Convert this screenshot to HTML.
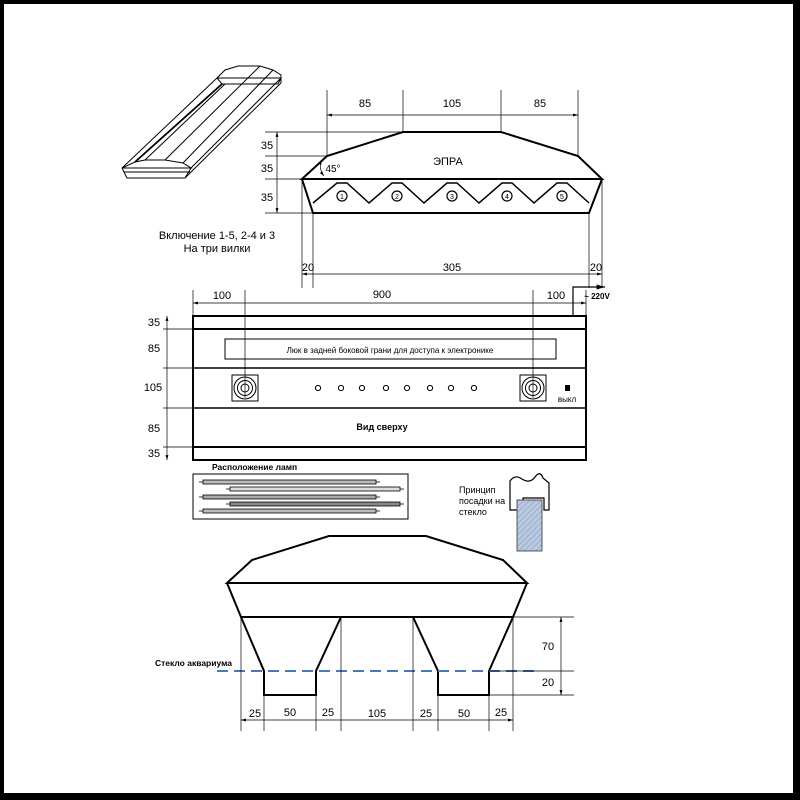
<!DOCTYPE html>
<html><head><meta charset="utf-8"><style>
html,body{margin:0;padding:0;background:#fff}
svg{display:block}
text{font-family:"Liberation Sans",sans-serif;fill:#000}
</style></head><body>
<svg width="800" height="800" viewBox="0 0 800 800" xmlns="http://www.w3.org/2000/svg">
<defs>
<marker id="a" viewBox="0 0 10 10" refX="10" refY="5" markerWidth="7" markerHeight="7" orient="auto-start-reverse"><path d="M0,2 L10,5 L0,8 z" fill="#000"/></marker>
<pattern id="h" width="4" height="4" patternUnits="userSpaceOnUse" patternTransform="rotate(45)"><rect width="4" height="4" fill="#b9c9e2"/><line x1="0" y1="0" x2="0" y2="4" stroke="#6f86ad" stroke-width="0.8"/></pattern>
</defs>
<rect x="0" y="0" width="800" height="800" fill="#000"/>
<rect x="4" y="4" width="789" height="789" fill="#fff"/>

<!-- isometric -->
<g fill="none" stroke="#000" stroke-width="1">
<path d="M217,78 L225,70 L238,66 L260,66 L273,70 L281,75 L281,83"/>
<path d="M217,78 L281,78"/>
<path d="M217,78 L222,84 L278,84 L281,78"/>
<path d="M122,168 L135,162 L145,160 L165,160 L183,163 L191,168 Z"/>
<path d="M122,168 L127,178 L185,178 L191,168"/>
<path d="M124,172 L190,172"/>
<path d="M122,168 L217,78"/>
<path d="M135,162 L222,84" stroke-width="1.8"/>
<path d="M145,160 L225,84"/>
<path d="M165,160 L260,66"/>
<path d="M183,163 L273,70"/>
<path d="M191,168 L281,78"/>
<path d="M185,178 L281,83"/>
</g>

<!-- front EPRA -->
<g fill="none" stroke="#000">
<path d="M302,179 L327,156 L403,132 L501,132 L578,156 L602,179 Z" stroke-width="2"/>
<path d="M302,179 L313,213 L589,213 L602,179" stroke-width="2"/>
<path d="M313,203 L337,183 L347,183 L369,203 L392,183 L402,183 L424,203 L447,183 L457,183 L479,203 L502,183 L512,183 L534,203 L557,183 L567,183 L589,203" stroke-width="1.5"/>
<g stroke-width="0.7">
<line x1="327" y1="90" x2="327" y2="156"/><line x1="403" y1="90" x2="403" y2="132"/>
<line x1="501" y1="90" x2="501" y2="132"/><line x1="578" y1="90" x2="578" y2="156"/>
<line x1="327" y1="115" x2="578" y2="115" marker-start="url(#a)" marker-end="url(#a)"/>
<line x1="265" y1="132" x2="403" y2="132"/><line x1="265" y1="156" x2="327" y2="156"/>
<line x1="265" y1="179" x2="302" y2="179"/><line x1="265" y1="213" x2="313" y2="213"/>
<line x1="277" y1="132" x2="277" y2="213" marker-start="url(#a)" marker-end="url(#a)"/>
<line x1="302" y1="179" x2="302" y2="288"/><line x1="313" y1="213" x2="313" y2="288"/>
<line x1="589" y1="213" x2="589" y2="288"/><line x1="602" y1="179" x2="602" y2="288"/>
<line x1="302" y1="274" x2="602" y2="274" marker-start="url(#a)" marker-end="url(#a)"/>
<path d="M322,160 Q318,168 324,176" marker-start="url(#a)" marker-end="url(#a)"/>
</g>
<g stroke-width="1.2">
<circle cx="342" cy="196" r="5"/><circle cx="397" cy="196" r="5"/><circle cx="452" cy="196" r="5"/><circle cx="507" cy="196" r="5"/><circle cx="562" cy="196" r="5"/>
</g>
</g>
<g font-size="7" text-anchor="middle"><text x="342" y="199">1</text><text x="397" y="199">2</text><text x="452" y="199">3</text><text x="507" y="199">4</text><text x="562" y="199">5</text></g>
<g font-size="11" text-anchor="middle">
<text x="365" y="107">85</text><text x="452" y="107">105</text><text x="540" y="107">85</text>
<text x="267" y="149">35</text><text x="267" y="172">35</text><text x="267" y="201">35</text>
<text x="333" y="172" font-size="10">45°</text>
<text x="448" y="165">ЭПРА</text>
<text x="308" y="271">20</text><text x="452" y="271">305</text><text x="596" y="271">20</text>
<text x="217" y="239">Включение 1-5, 2-4 и 3</text><text x="217" y="252">На три вилки</text>
</g>

<!-- top view -->
<g fill="none" stroke="#000">
<rect x="193" y="316" width="393" height="144" stroke-width="2"/>
<line x1="193" y1="329" x2="586" y2="329" stroke-width="2"/>
<line x1="193" y1="368" x2="586" y2="368" stroke-width="1.5"/>
<line x1="193" y1="408" x2="586" y2="408" stroke-width="1.5"/>
<line x1="193" y1="447" x2="586" y2="447" stroke-width="2"/>
<rect x="225" y="339" width="331" height="20" stroke-width="1"/>
<g stroke-width="0.7">
<line x1="193" y1="290" x2="193" y2="316"/><line x1="586" y1="290" x2="586" y2="316"/>
<line x1="245" y1="290" x2="245" y2="398"/><line x1="533" y1="290" x2="533" y2="398"/>
<line x1="193" y1="303" x2="586" y2="303" marker-start="url(#a)" marker-end="url(#a)"/>
<line x1="163" y1="329" x2="193" y2="329"/><line x1="163" y1="368" x2="193" y2="368"/>
<line x1="163" y1="408" x2="193" y2="408"/><line x1="163" y1="447" x2="193" y2="447"/>
<line x1="167" y1="316" x2="167" y2="460" marker-start="url(#a)" marker-end="url(#a)"/>
</g>
<path d="M573,316 L573,287 L605,287" stroke-width="1.2" marker-end="url(#a)"/>
<g stroke-width="1">
<rect x="232" y="375" width="26" height="26"/><circle cx="245" cy="388" r="11"/><circle cx="245" cy="388" r="7.5"/><circle cx="245" cy="388" r="4"/>
<rect x="520" y="375" width="26" height="26"/><circle cx="533" cy="388" r="11"/><circle cx="533" cy="388" r="7.5"/><circle cx="533" cy="388" r="4"/>
<circle cx="318" cy="388" r="2.6"/><circle cx="341" cy="388" r="2.6"/><circle cx="362" cy="388" r="2.6"/><circle cx="386" cy="388" r="2.6"/>
<circle cx="407" cy="388" r="2.6"/><circle cx="430" cy="388" r="2.6"/><circle cx="451" cy="388" r="2.6"/><circle cx="474" cy="388" r="2.6"/>
</g>
</g>
<rect x="565" y="385" width="5" height="6" fill="#000"/>
<g font-size="11" text-anchor="middle">
<text x="222" y="299">100</text><text x="382" y="298">900</text><text x="556" y="299">100</text>
<text x="154" y="326">35</text><text x="154" y="352">85</text><text x="153" y="391">105</text><text x="154" y="432">85</text><text x="154" y="457">35</text>
<text x="390" y="353" font-size="8">Люк в задней боковой грани для доступа к электронике</text>
<text x="567" y="402" font-size="8">выкл</text>
<text x="382" y="430" font-size="9" font-weight="bold">Вид сверху</text>
<text x="597" y="299" font-size="8" font-weight="bold">~ 220V</text>
</g>

<!-- lamps -->
<text x="212" y="470" font-size="8.5" font-weight="bold">Расположение ламп</text>
<rect x="193" y="474" width="215" height="45" fill="none" stroke="#000" stroke-width="1"/>
<g stroke="#000" stroke-width="0.8">
<rect x="203" y="480" width="173" height="4" fill="#bbb"/><rect x="230" y="487" width="170" height="4" fill="#ddd"/>
<rect x="203" y="495" width="173" height="4" fill="#aaa"/><rect x="230" y="502" width="170" height="4" fill="#888"/>
<rect x="203" y="509" width="173" height="4" fill="#bbb"/>
<line x1="199" y1="482" x2="203" y2="482"/><line x1="376" y1="482" x2="380" y2="482"/>
<line x1="226" y1="489" x2="230" y2="489"/><line x1="400" y1="489" x2="404" y2="489"/>
<line x1="199" y1="497" x2="203" y2="497"/><line x1="376" y1="497" x2="380" y2="497"/>
<line x1="226" y1="504" x2="230" y2="504"/><line x1="400" y1="504" x2="404" y2="504"/>
<line x1="199" y1="511" x2="203" y2="511"/><line x1="376" y1="511" x2="380" y2="511"/>
</g>

<!-- glass principle -->
<g font-size="9"><text x="459" y="493">Принцип</text><text x="459" y="504">посадки на</text><text x="459" y="515">стекло</text></g>
<path d="M510,510 L510,481 Q515,474 522,479 Q530,484 535,477 Q540,470 543,478 L549,483 L549,510 L544,510 L544,498 L523,498 L523,510 Z" fill="#fff" stroke="#000" stroke-width="1.2"/>
<rect x="517" y="500" width="25" height="51" fill="url(#h)" stroke="#333" stroke-width="0.8"/>

<!-- side view -->
<g fill="none" stroke="#000" stroke-width="2">
<path d="M227,583 L252,560 L329,536 L426,536 L503,560 L527,583 Z"/>
<path d="M227,583 L241,617 L513,617 L527,583"/>
<path d="M241,617 L264,671 L264,695 L316,695 L316,671 L341,617"/>
<path d="M413,617 L438,671 L438,695 L489,695 L489,671 L513,617"/>
</g>
<line x1="217" y1="671" x2="538" y2="671" stroke="#4a78b8" stroke-width="2" stroke-dasharray="11,6"/>
<g stroke="#000" stroke-width="0.7" fill="none">
<line x1="513" y1="617" x2="574" y2="617"/><line x1="489" y1="671" x2="574" y2="671"/><line x1="489" y1="695" x2="574" y2="695"/>
<line x1="561" y1="617" x2="561" y2="695" marker-start="url(#a)" marker-end="url(#a)"/>
<line x1="241" y1="617" x2="241" y2="731"/><line x1="264" y1="695" x2="264" y2="731"/><line x1="316" y1="695" x2="316" y2="731"/>
<line x1="341" y1="617" x2="341" y2="731"/><line x1="413" y1="617" x2="413" y2="731"/><line x1="438" y1="695" x2="438" y2="731"/>
<line x1="489" y1="695" x2="489" y2="731"/><line x1="513" y1="617" x2="513" y2="731"/>
<line x1="241" y1="720" x2="513" y2="720" marker-start="url(#a)" marker-end="url(#a)"/>
</g>
<text x="155" y="666" font-size="8.5" font-weight="bold">Стекло аквариума</text>
<g font-size="11" text-anchor="middle">
<text x="548" y="650">70</text><text x="548" y="686">20</text>
<text x="255" y="717">25</text><text x="290" y="716">50</text><text x="328" y="716">25</text><text x="377" y="717">105</text>
<text x="426" y="717">25</text><text x="464" y="717">50</text><text x="501" y="716">25</text>
</g>
</svg>
</body></html>
